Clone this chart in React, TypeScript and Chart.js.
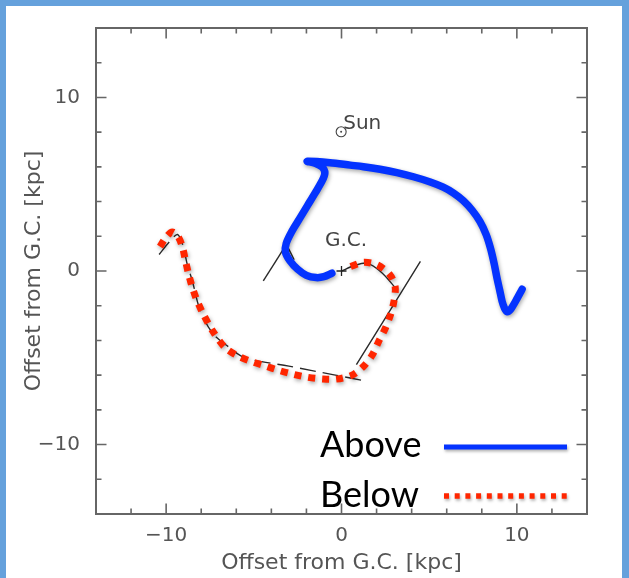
import React, { useEffect, useRef } from "react";
import { Chart, registerables } from "chart.js";

Chart.register(...registerables);

// ---- axes ----
const X_MIN = -14;
const X_MAX = 14;
const Y_MIN = -14;
const Y_MAX = 14;
const TICK_STEP = 2;
const MAJOR_TICKS = [-10, 0, 10];
const AXIS_TITLE = "Offset from G.C. [kpc]";

// ---- "Above" arm (blue) ----
const aboveX = [-0.55, -1.0, -1.45, -2.0, -2.5, -2.95, -3.2, -3.15, -2.85, -2.4, -1.95, -1.5, -1.1, -0.95, -1.1, -1.5, -1.95, -0.65, 0.5, 1.25, 2.2, 3.16, 4.1, 5.06, 5.8, 6.39, 6.95, 7.45, 7.9, 8.25, 8.5, 8.7, 8.87, 9.02, 9.16, 9.3, 9.45, 9.65, 9.95, 10.3];
const aboveY = [-0.13, -0.33, -0.38, -0.25, 0.1, 0.6, 1.1, 1.6, 2.25, 3.0, 3.75, 4.5, 5.2, 5.65, 5.98, 6.2, 6.32, 6.24, 6.1, 6.01, 5.86, 5.67, 5.43, 5.13, 4.83, 4.49, 4.05, 3.5, 2.85, 2.1, 1.3, 0.45, -0.42, -1.1, -1.75, -2.15, -2.35, -2.2, -1.7, -1.05];

// ---- "Below" arm (red, dotted) ----
const belowX = [-10.35, -10.0, -9.65, -9.3, -9.05, -8.9, -8.75, -8.55, -8.3, -7.95, -7.35, -6.65, -5.9, -5.1, -4.35, -3.6, -2.75, -1.95, -1.1, -0.3, 0.6, 1.25, 1.75, 2.1, 2.5, 2.8, 3.0, 3.06, 2.75, 2.05, 1.25, 0.5, 0.25];
const belowY = [1.4, 1.95, 2.25, 1.95, 1.3, 0.6, -0.05, -0.8, -1.55, -2.35, -3.45, -4.4, -4.9, -5.23, -5.47, -5.72, -5.95, -6.12, -6.22, -6.23, -6.0, -5.5, -4.85, -4.1, -3.3, -2.5, -1.7, -0.9, -0.2, 0.35, 0.5, 0.25, 0.15];

// ---- thin black model arms (background figure) ----
const armBelowX = [-10.4, -9.8, -9.35, -9.05, -8.8, -8.5, -8.15, -7.8, -7.3, -6.6, -5.5, -3.0, -0.5, 1.35];
const armBelowY = [0.95, 1.7, 2.1, 1.5, 0.4, -0.6, -2.0, -2.85, -3.65, -4.25, -5.0, -5.48, -5.97, -6.33];
const armRightX = [0.85, 4.5];
const armRightY = [-5.4, 0.55];
const armCoreX = [0, 0.7, 1.45, 2.3, 3.1];
const armCoreY = [0, 0.3, 0.45, -0.1, -1.0];
const armLeftX = [-4.46, -3.1];
const armLeftY = [-0.57, 1.6];
const armCoreUpX = [-2.7, -3.05];
const armCoreUpY = [0.65, 1.35];
const armUpperX = [6.1, 7.2];
const armUpperY = [4.6, 3.65];

// ---- markers & annotations ----
const sunX = [-0.02];
const sunY = [8.02];
const gcX = [0];
const gcY = [0];
const annotationText = ["Sun", "G.C."];
const annotationX = [0.1, -0.94];
const annotationY = [8.2, 1.45];

const legendLabels = ["Above", "Below"];

const BLUE = "#0433ff";
const RED = "#ff2600";
const ARM = "#2a2a2a";
const AXIS_FONT = "DejaVu Sans";

const pts = (xs: number[], ys: number[]) => xs.map((x, i) => ({ x, y: ys[i] }));

const fmtTick = (v: number) => {
  if (Math.abs(v) < 1e-9) return "0";
  return v < 0 ? "\u2212" + Math.abs(v) : String(v);
};
const isMajor = (v: number) => MAJOR_TICKS.some((m) => Math.abs(m - v) < 1e-6);

const shadowPlugin = {
  id: "lineShadow",
  beforeDatasetDraw(chart: any, args: any) {
    const ds = chart.data.datasets[args.index];
    if (!ds.shadow) return;
    const ctx = chart.ctx;
    ctx.save();
    ctx.shadowColor = "rgba(0,0,0,0.35)";
    ctx.shadowBlur = 4;
    ctx.shadowOffsetX = 1;
    ctx.shadowOffsetY = 2;
  },
  afterDatasetDraw(chart: any, args: any) {
    const ds = chart.data.datasets[args.index];
    if (!ds.shadow) return;
    chart.ctx.restore();
  },
};

const framePlugin = {
  id: "frameTicks",
  afterDatasetsDraw(chart: any) {
    const { ctx, chartArea: a, scales } = chart;
    const xs = scales.x;
    const ys = scales.y;
    ctx.save();
    ctx.strokeStyle = "#666";
    ctx.lineWidth = 1.6;
    xs.ticks.forEach((t: any) => {
      if (t.value <= X_MIN + 1e-6 || t.value >= X_MAX - 1e-6) return;
      const len = isMajor(t.value) ? 10.5 : 5.5;
      const px = xs.getPixelForValue(t.value);
      ctx.beginPath();
      ctx.moveTo(px, a.bottom);
      ctx.lineTo(px, a.bottom - len);
      ctx.moveTo(px, a.top);
      ctx.lineTo(px, a.top + len);
      ctx.stroke();
    });
    ys.ticks.forEach((t: any) => {
      if (t.value <= Y_MIN + 1e-6 || t.value >= Y_MAX - 1e-6) return;
      const len = isMajor(t.value) ? 10.5 : 5.5;
      const py = ys.getPixelForValue(t.value);
      ctx.beginPath();
      ctx.moveTo(a.left, py);
      ctx.lineTo(a.left + len, py);
      ctx.moveTo(a.right, py);
      ctx.lineTo(a.right - len, py);
      ctx.stroke();
    });
    ctx.lineWidth = 2;
    ctx.strokeRect(a.left, a.top, a.right - a.left, a.bottom - a.top);
    ctx.restore();
  },
  afterDraw(chart: any) {
    const { ctx, chartArea: a, scales } = chart;
    const xs = scales.x;
    const ys = scales.y;
    ctx.save();
    // annotations
    ctx.fillStyle = "#444";
    ctx.font = `20px "${AXIS_FONT}"`;
    ctx.textBaseline = "alphabetic";
    ctx.textAlign = "left";
    annotationText.forEach((txt, i) => {
      ctx.fillText(txt, xs.getPixelForValue(annotationX[i]), ys.getPixelForValue(annotationY[i]));
    });
    // legend
    const textX = a.left + 224;
    const lineX0 = a.left + 348;
    const lineX1 = a.left + 471;
    const rows = [
      { base: a.bottom - 57, lineY: a.bottom - 67 },
      { base: a.bottom - 7, lineY: a.bottom - 18 },
    ];
    ctx.fillStyle = "#000";
    ctx.font = `36px Lato`;
    legendLabels.forEach((lab, i) => {
      ctx.fillText(lab, textX, rows[i].base);
    });
    ctx.shadowColor = "rgba(0,0,0,0.3)";
    ctx.shadowBlur = 3;
    ctx.shadowOffsetX = 1;
    ctx.shadowOffsetY = 2;
    ctx.lineCap = "butt";
    ctx.strokeStyle = BLUE;
    ctx.lineWidth = 5;
    ctx.beginPath();
    ctx.moveTo(lineX0, rows[0].lineY);
    ctx.lineTo(lineX1, rows[0].lineY);
    ctx.stroke();
    ctx.strokeStyle = RED;
    ctx.lineWidth = 5.5;
    ctx.setLineDash([5, 5.7]);
    ctx.beginPath();
    ctx.moveTo(lineX0, rows[1].lineY);
    ctx.lineTo(lineX1, rows[1].lineY);
    ctx.stroke();
    ctx.restore();
  },
};

export default function App() {
  const canvasRef = useRef<HTMLCanvasElement | null>(null);

  useEffect(() => {
    const canvas = canvasRef.current;
    if (!canvas) return;
    const armStyle = (data: any, dash: number[] = []) => ({
      data,
      showLine: true,
      borderColor: ARM,
      borderWidth: 1.4,
      borderDash: dash,
      pointRadius: 0,
      tension: 0.3,
      fill: false,
      order: 5,
    });
    const chart = new Chart(canvas, {
      type: "scatter",
      data: {
        datasets: [
          {
            data: pts(aboveX, aboveY),
            showLine: true,
            borderColor: BLUE,
            borderWidth: 7.5,
            pointRadius: 0,
            tension: 0.3,
            borderCapStyle: "round",
            borderJoinStyle: "round",
            fill: false,
            order: 1,
            shadow: true,
          } as any,
          {
            data: pts(belowX, belowY),
            showLine: true,
            borderColor: RED,
            borderWidth: 7,
            borderDash: [7, 7],
            borderCapStyle: "butt",
            pointRadius: 0,
            tension: 0.3,
            fill: false,
            order: 2,
            shadow: true,
          } as any,
          armStyle(pts(armBelowX, armBelowY), [16, 7]),
          armStyle(pts(armRightX, armRightY)),
          armStyle(pts(armCoreX, armCoreY)),
          armStyle(pts(armLeftX, armLeftY)),
          armStyle(pts(armCoreUpX, armCoreUpY)),
          armStyle(pts(armUpperX, armUpperY)),
          {
            data: pts(sunX, sunY),
            pointStyle: "circle",
            pointRadius: 5,
            pointBorderWidth: 1.1,
            pointBorderColor: "#444",
            pointBackgroundColor: "rgba(0,0,0,0)",
            order: 0,
          } as any,
          {
            data: pts(sunX, sunY),
            pointStyle: "circle",
            pointRadius: 1,
            pointBorderWidth: 0,
            pointBackgroundColor: "#444",
            order: 0,
          } as any,
          {
            data: pts(gcX, gcY),
            pointStyle: "cross",
            pointRadius: 5,
            pointBorderWidth: 1.3,
            pointBorderColor: "#222",
            order: 0,
          } as any,
        ],
      },
      options: {
        responsive: false,
        animation: false,
        events: [],
        layout: { padding: { left: 0, top: 25, right: 42, bottom: 0 } },
        plugins: {
          legend: { display: false },
          tooltip: { enabled: false },
        },
        scales: {
          x: {
            type: "linear",
            position: "bottom",
            min: X_MIN,
            max: X_MAX,
            grid: { display: false, drawTicks: false, tickLength: 0 },
            border: { display: false },
            ticks: {
              stepSize: TICK_STEP,
              autoSkip: false,
              maxRotation: 0,
              padding: 10,
              color: "#555",
              font: { family: AXIS_FONT, size: 20 },
              callback: (v: any) => (isMajor(Number(v)) ? fmtTick(Number(v)) : ""),
            },
            title: {
              display: true,
              text: AXIS_TITLE,
              color: "#555",
              font: { family: AXIS_FONT, size: 22 },
              padding: { top: 0, bottom: 2 },
            },
            afterFit: (s: any) => {
              s.height = 64;
            },
          },
          y: {
            type: "linear",
            position: "left",
            min: Y_MIN,
            max: Y_MAX,
            grid: { display: false, drawTicks: false, tickLength: 0 },
            border: { display: false },
            ticks: {
              stepSize: TICK_STEP,
              autoSkip: false,
              padding: 16,
              color: "#555",
              font: { family: AXIS_FONT, size: 20 },
              callback: (v: any) => (isMajor(Number(v)) ? fmtTick(Number(v)) : ""),
            },
            title: {
              display: true,
              text: AXIS_TITLE,
              color: "#555",
              font: { family: AXIS_FONT, size: 22 },
              padding: { top: 21, bottom: 0 },
            },
            afterFit: (s: any) => {
              s.width = 96;
            },
          },
        },
      } as any,
      plugins: [shadowPlugin, framePlugin],
    });
    return () => chart.destroy();
  }, []);

  return (
    <div
      style={{
        position: "fixed",
        left: 0,
        top: 0,
        width: 629,
        height: 578,
        background: "#fff",
        overflow: "hidden",
      }}
    >
      <canvas
        ref={canvasRef}
        width={629}
        height={578}
        style={{ position: "absolute", left: 0, top: 0, width: 629, height: 578 }}
      />
      <div
        style={{
          position: "absolute",
          left: 0,
          top: 0,
          width: 629,
          height: 578,
          boxSizing: "border-box",
          borderLeft: "6px solid #65a1dc",
          borderTop: "6px solid #65a1dc",
          borderRight: "7px solid #65a1dc",
          pointerEvents: "none",
        }}
      />
    </div>
  );
}
